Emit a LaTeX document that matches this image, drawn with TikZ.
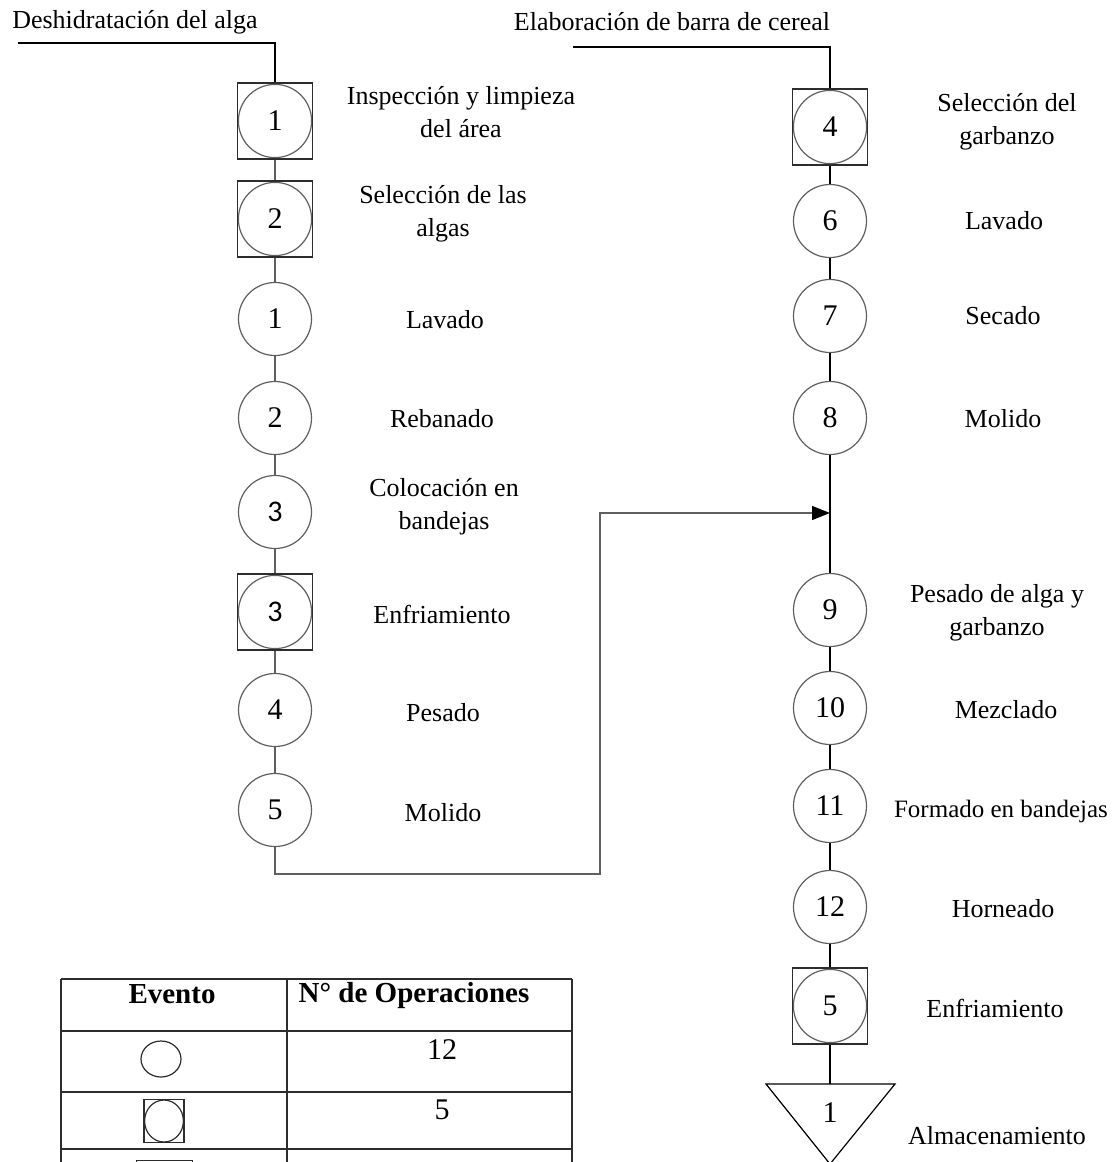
\documentclass[tikz,border=0pt]{standalone}
\usepackage{fontspec}
\setmainfont{Liberation Serif}
\newfontfamily\carlito{Carlito}
\usetikzlibrary{arrows.meta,shapes.geometric}
\definecolor{cgray}{RGB}{95,95,95}
\definecolor{bgray}{RGB}{45,45,45}
\newcommand\nfont{\fontsize{15}{18}\selectfont}
\newcommand\lfont{\fontsize{13}{16.5}\selectfont}
\newcommand\hfont{\fontsize{14.5}{17}\selectfont\bfseries}
\tikzset{
  op/.style={circle, draw=cgray, line width=0.6pt, minimum size=36.5pt, inner sep=0pt, font=\nfont},
  opbox/.style={rectangle, draw=bgray, line width=0.6pt, minimum width=37.5pt, minimum height=38pt, inner sep=0pt, font=\nfont,
    path picture={\draw[cgray,line width=0.6pt] (path picture bounding box.center) circle (18.3pt);}},
  lbl/.style={font=\lfont, align=center, inner sep=0pt},
  connl/.style={draw=cgray, line width=0.6pt},
  connr/.style={draw=black, line width=0.6pt},
  tline/.style={draw=bgray, line width=0.6pt}
}
\begin{document}
\begin{tikzpicture}[x=0.5pt,y=-0.5pt]
\useasboundingbox (0,0) rectangle (1114,1162);

% headers
\node[lbl] (hL) at (135,22) {Deshidratación del alga};
\node[lbl] (hR) at (672,22) {Elaboración de barra de cereal};
\coordinate (hLs) at (18,43);
\coordinate (hLc) at (275,43);
\coordinate (hRs) at (573,47);
\coordinate (hRc) at (830,47);

% left column
\node[opbox] (L1) at (275,121) {\raisebox{-3pt}{1}};
\node[opbox] (L2) at (275,219) {2};
\node[op] (L3) at (275,319) {1};
\node[op] (L4) at (275,418) {2};
\node[op] (L5) at (275,512) {{\carlito 3}};
\node[opbox] (L6) at (275,612) {{\carlito 3}};
\node[op] (L7) at (275,710) {4};
\node[op] (L8) at (275,810) {5};

\node[lbl] (tL1) at (461,112) {Inspección y limpieza\\del área};
\node[lbl] (tL2) at (443,214) {Selección de las\\algas};
\node[lbl] (tL3) at (445,320) {Lavado};
\node[lbl] (tL4) at (442,419) {Rebanado};
\node[lbl] (tL5) at (444,507) {Colocación en\\bandejas};
\node[lbl] (tL6) at (442,614) {Enfriamiento};
\node[lbl] (tL7) at (443,713) {Pesado};
\node[lbl] (tL8) at (443,813) {Molido};

% right column
\node[opbox] (R1) at (830,127) {\raisebox{-1.5pt}{4}};
\node[op] (R2) at (830,221) {6};
\node[op] (R3) at (830,316) {7};
\node[op] (R4) at (830,418) {8};
\node[op] (R5) at (830,610) {9};
\node[op] (R6) at (830,708) {10};
\node[op] (R7) at (830,806) {11};
\node[op] (R8) at (830,907) {12};
\node[opbox] (R9) at (830,1006) {5};
\draw[connr] (766,1084) -- (895,1084) -- (830,1164) -- cycle;
\coordinate (R10top) at (830,1084);
\node[font=\nfont, inner sep=0pt] (R10) at (830,1113) {1};

\node[lbl] (tR1) at (1007,122) {Selección del\\garbanzo};
\node[lbl] (tR2) at (1004,221) {Lavado};
\node[lbl] (tR3) at (1003,316) {Secado};
\node[lbl] (tR4) at (1003,419) {Molido};
\node[lbl] (tR5) at (997,613) {Pesado de alga y\\garbanzo};
\node[lbl] (tR6) at (1006,710) {Mezclado};
\node[lbl, font=\fontsize{12.5}{15}\selectfont] (tR7) at (1001,811) {Formado en bandejas};
\node[lbl] (tR8) at (1003,909) {Horneado};
\node[lbl] (tR9) at (995,1008) {Enfriamiento};
\node[lbl] (tR10) at (997,1136) {Almacenamiento};

% connectors
\draw[connr] (hLs) -- (hLc) -- (L1.north);
\draw[connl] (L1) -- (L2) -- (L3) -- (L4) -- (L5) -- (L6) -- (L7) -- (L8);
\coordinate (m1) at (600,874);
\coordinate (m2) at (600,513);
\coordinate (aj) at (830,513);
\draw[connl, -{Triangle[length=9pt,width=7pt,black]}] (L8.south) |- (m1) -- (m2) -- (aj);

\draw[connr] (hRs) -- (hRc) -- (R1.north);
\draw[connr] (R1) -- (R2) -- (R3) -- (R4) -- (R5) -- (R6) -- (R7) -- (R8) -- (R9) -- (R10top);

% table
\draw[tline] (61,979) -- (572,979);
\draw[tline] (61,1031) -- (572,1031);
\draw[tline] (61,1092) -- (572,1092);
\draw[tline] (61,1149) -- (572,1149);
\draw[tline] (61,979) -- (61,1162);
\draw[tline] (287,979) -- (287,1162);
\draw[tline] (572,979) -- (572,1162);
\node[font=\hfont, inner sep=0pt] (th1) at (172,994) {Evento};
\node[font=\hfont, inner sep=0pt] (th2) at (414,996) {N° de Operaciones};
\node[draw=bgray, line width=0.6pt, ellipse, minimum width=20pt, minimum height=18pt, inner sep=0pt] (te1) at (161,1059) {};
\node[draw=bgray, line width=0.6pt, rectangle, minimum width=20pt, minimum height=21.5pt, inner sep=0pt,
  path picture={\draw[bgray,line width=0.6pt] (path picture bounding box.center) ellipse (9.7pt and 10.5pt);}] (te2) at (164,1121) {};
\node[draw=bgray, line width=0.6pt, rectangle, minimum width=28pt, minimum height=10pt, inner sep=0pt, anchor=north west] (te3) at (136,1160) {};
\node[font=\nfont, inner sep=0pt] (tn1) at (442,1050) {12};
\node[font=\nfont, inner sep=0pt] (tn2) at (442,1110) {5};
\end{tikzpicture}
\end{document}
